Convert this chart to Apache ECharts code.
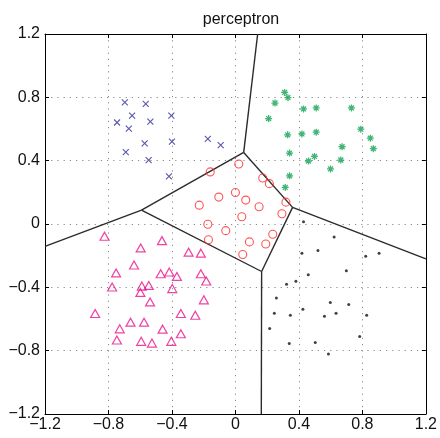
<!DOCTYPE html>
<html>
<head>
<meta charset="utf-8">
<script src="https://cdn.jsdelivr.net/npm/echarts@6/dist/echarts.min.js"></script>
<style>
  html, body { margin: 0; padding: 0; background: #fff; }
  #chart { width: 440px; height: 438px; }
</style>
</head>
<body>
<div id="chart"></div>
<script>
// Class samples in the (x, y) plane
const crossPts = [
  [-0.697, 0.768], [-0.565, 0.758], [-0.651, 0.685], [-0.746, 0.641], [-0.536, 0.647],
  [-0.672, 0.603], [-0.404, 0.685], [-0.572, 0.509], [-0.400, 0.520], [-0.691, 0.454],
  [-0.547, 0.404], [-0.419, 0.301], [-0.174, 0.538], [-0.093, 0.498]
];
const starPts = [
  [0.310, 0.831], [0.331, 0.798], [0.249, 0.764], [0.429, 0.727], [0.509, 0.733],
  [0.731, 0.733], [0.209, 0.666], [0.329, 0.563], [0.419, 0.569], [0.509, 0.580],
  [0.790, 0.599], [0.850, 0.542], [0.869, 0.476], [0.672, 0.488], [0.341, 0.448],
  [0.498, 0.427], [0.460, 0.398], [0.664, 0.404], [0.599, 0.348], [0.341, 0.304],
  [0.314, 0.231]
];
const circlePts = [
  [0.021, 0.379], [-0.159, 0.329], [0.172, 0.291], [0.214, 0.255], [0.000, 0.199],
  [-0.105, 0.170], [0.065, 0.151], [-0.228, 0.119], [0.149, 0.109], [0.318, 0.138],
  [0.293, 0.065], [0.040, 0.046], [-0.174, -0.002], [-0.061, -0.042], [-0.170, -0.099],
  [0.088, -0.113], [0.235, -0.065], [0.191, -0.126], [0.046, -0.193]
];
const trianglePts = [
  [-0.825, -0.077], [-0.463, -0.105], [-0.597, -0.151], [-0.295, -0.178], [-0.218, -0.184],
  [-0.639, -0.259], [-0.752, -0.309], [-0.471, -0.314], [-0.417, -0.303], [-0.369, -0.331],
  [-0.218, -0.314], [-0.184, -0.360], [-0.777, -0.398], [-0.590, -0.392], [-0.546, -0.388],
  [-0.599, -0.432], [-0.398, -0.408], [-0.538, -0.492], [-0.199, -0.479], [-0.884, -0.565],
  [-0.344, -0.565], [-0.253, -0.576], [-0.661, -0.620], [-0.576, -0.620], [-0.729, -0.662],
  [-0.459, -0.664], [-0.344, -0.693], [-0.747, -0.733], [-0.594, -0.741], [-0.526, -0.752],
  [-0.404, -0.741]
];
const dotPts = [
  [0.429, 0.014], [0.622, -0.082], [0.520, -0.168], [0.419, -0.185], [0.821, -0.203],
  [0.905, -0.185], [0.699, -0.295], [0.459, -0.320], [0.381, -0.362], [0.322, -0.381],
  [0.258, -0.467], [0.598, -0.496], [0.714, -0.509], [0.425, -0.538], [0.245, -0.563],
  [0.346, -0.576], [0.634, -0.563], [0.561, -0.582], [0.827, -0.576], [0.216, -0.660],
  [0.783, -0.710], [0.339, -0.754], [0.503, -0.748], [0.586, -0.821]
];

// Decision-boundary vertices and the segments joining them
const vertices = {
  A: [-0.592, 0.088], B: [0.052, 0.452], C: [0.360, 0.105], D: [0.165, -0.300],
  L: [-1.2, -0.141], T: [0.140, 1.2], R: [1.2, -0.220], F: [0.163, -1.2]
};
const boundarySegments = [
  ['A', 'L'], ['A', 'B'], ['A', 'D'], ['B', 'T'], ['B', 'C'], ['C', 'D'], ['C', 'R'], ['D', 'F']
];

const axisMin = -1.2, axisMax = 1.2, axisStep = 0.4;
const titleText = 'perceptron';

const fmt = v => Math.abs(v) < 1e-9 ? '0' : v.toFixed(1).replace('-', '\u2212');
const font = '"Liberation Sans", Arial, Helvetica, sans-serif';

function axisBase(pos, showLabels, margin) {
  return {
    type: 'value', position: pos, min: axisMin, max: axisMax, interval: axisStep,
    axisLine: { show: true, onZero: false, lineStyle: { color: '#000', width: 1 } },
    axisTick: { show: true, inside: true, length: 4, lineStyle: { color: '#000' } },
    axisLabel: {
      show: showLabels, formatter: fmt, color: '#111', fontSize: 16, fontFamily: font,
      margin: margin, showMinLabel: true, showMaxLabel: true
    },
    splitLine: showLabels ? {
      show: true, lineStyle: { color: '#8a8a8a', type: [1.2, 5], width: 1 }
    } : { show: false }
  };
}

const lineSeries = boundarySegments.map(([p, q]) => ({
  type: 'line', data: [vertices[p], vertices[q]], symbol: 'none', silent: true,
  lineStyle: { color: '#2b2b2b', width: 1.4 }, z: 2
}));

const scatter = (data, symbol, size, style) => ({
  type: 'scatter', data, symbol, symbolSize: size, itemStyle: style, z: 3, silent: true
});

const option = {
  animation: false,
  title: {
    text: titleText, left: 236, top: 7, textAlign: 'center',
    textStyle: { fontSize: 16, fontWeight: 'normal', color: '#111', fontFamily: font }
  },
  grid: { left: 45, right: 13, top: 34, bottom: 24, containLabel: false },
  xAxis: [axisBase('bottom', true, 3), axisBase('top', false, 3)],
  yAxis: [axisBase('left', true, 5), axisBase('right', false, 5)],
  series: [
    ...lineSeries,
    scatter(crossPts, 'path://M0,0L10,10M10,0L0,10', 6,
      { color: 'transparent', borderColor: '#2e2e98', borderWidth: 1.1 }),
    scatter(starPts, 'path://M5,0L5,10M0,5L10,5M1.5,1.5L8.5,8.5M8.5,1.5L1.5,8.5', 7,
      { color: 'transparent', borderColor: '#11a352', borderWidth: 1.3 }),
    scatter(circlePts, 'circle', 8,
      { color: 'transparent', borderColor: '#ff2a2a', borderWidth: 1.1 }),
    scatter(trianglePts, 'triangle', [9, 8],
      { color: 'transparent', borderColor: '#e8158c', borderWidth: 1.2 }),
    scatter(dotPts, 'circle', 3, { color: '#111' })
  ]
};

const chart = echarts.init(document.getElementById('chart'), null, { renderer: 'canvas' });
chart.setOption(option);
</script>
</body>
</html>
